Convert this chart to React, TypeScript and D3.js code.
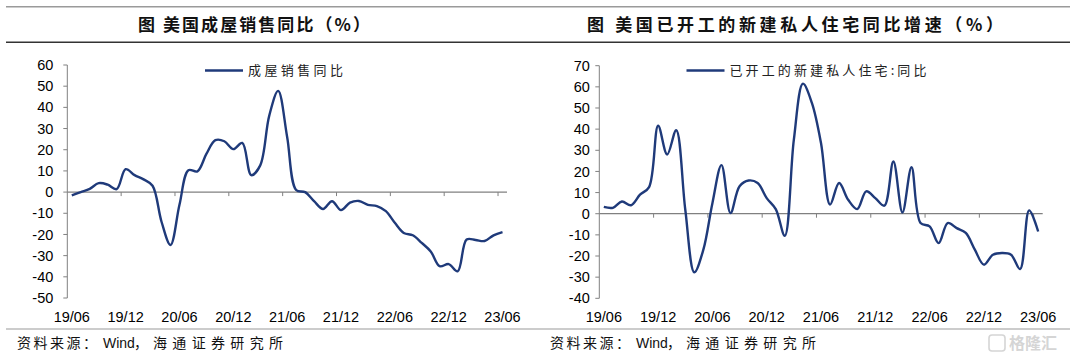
import React from "react";
import * as d3 from "d3";

const months: string[] = [];
for (let y = 2019; y <= 2023; y++) {
  for (let m = 1; m <= 12; m++) {
    if ((y === 2019 && m < 6) || (y === 2023 && m > 6)) continue;
    months.push(`${String(y).slice(2)}/${String(m).padStart(2, "0")}`);
  }
}
const tickLabels = ["19/06", "19/12", "20/06", "20/12", "21/06", "21/12", "22/06", "22/12", "23/06"];

// 美国成屋销售同比 (%)
const existingHomeSales = [
  -1.5, 0, 1.5, 4.2, 3.5, 1.4, 10.8, 8, 6, 3, -14, -25, -6, 10.3, 9.8, 18, 24.5, 24, 20.3, 23.2, 8, 12.6, 36, 47.8,
  26, 1, 0, -4.3, -8, -4.3, -8.5, -5, -4.2, -6, -6.6, -9, -14.5, -19.3, -20.4, -24, -28, -35, -34, -37.4, -22.4,
  -22.6, -23.1, -20.4, -18.9,
];

// 美国已开工的新建私人住宅同比增速 (%)
const housingStarts = [
  3.2, 2.8, 5.8, 4, 9, 12.6, 41.6, 28, 39.5, 2, -27.7, -17, 5, 23, 0.3, 13, 15.7, 14.5, 7.4, 2.2, -10.4, 35, 61.5,
  52.3, 33.4, 4.3, 14.5, 6.6, 2.2, 10.6, 7.4, 3.8, 24.7, 0.6, 22, -4.4, -6, -13.9, -4.4, -6.8, -9.1, -17, -24.1,
  -19.4, -18.6, -19.4, -26.2, 1.6, -8.4,
];

const leftTicks = [60, 50, 40, 30, 20, 10, 0, -10, -20, -30, -40, -50];
const rightTicks = [70, 60, 50, 40, 30, 20, 10, 0, -10, -20, -30, -40];

const LINE_COLOR = "#1f3a7a";
const AXIS_COLOR = "#808080";
const NUM_FONT = "'Liberation Sans', Arial, sans-serif";
const CJK_FONT = "'Noto Sans CJK SC', sans-serif";

type PanelProps = {
  data: number[];
  yTicks: number[];
  yDomain: [number, number];
  xRange: [number, number];
  yRange: [number, number];
  labelGap: number;
  legend: string;
  legendX: number;
  legendTextLen: number;
};

function Panel({ data, yTicks, yDomain, xRange, yRange, labelGap, legend, legendX, legendTextLen }: PanelProps) {
  const x = d3.scaleLinear().domain([0, months.length]).range(xRange);
  const y = d3.scaleLinear().domain(yDomain).range(yRange);
  const line = d3
    .line<number>()
    .x((_, i) => x(i + 0.5))
    .y((d) => y(d))
    .curve(d3.curveCatmullRom.alpha(0.5));
  const y0 = y(0);
  const tickIdx = months.map((m, i) => (tickLabels.includes(m) ? i : -1)).filter((i) => i >= 0);
  return (
    <g>
      <line x1={xRange[0]} x2={xRange[0]} y1={y(yDomain[0])} y2={y(yDomain[1])} stroke={AXIS_COLOR} strokeWidth={1} />
      {yTicks.map((t) => (
        <g key={t}>
          <line x1={xRange[0] - 4} x2={xRange[0]} y1={y(t)} y2={y(t)} stroke={AXIS_COLOR} strokeWidth={1} />
          <text
            x={xRange[0] - labelGap}
            y={y(t)}
            dy="0.35em"
            textAnchor="end"
            fontFamily={NUM_FONT}
            fontSize={14.5}
            fill="#000"
          >
            {t}
          </text>
        </g>
      ))}
      <line x1={xRange[0]} x2={xRange[1]} y1={y0} y2={y0} stroke={AXIS_COLOR} strokeWidth={1.2} />
      {tickIdx
        .filter((i) => i > 0)
        .map((i) => (
          <line key={i} x1={x(i)} x2={x(i)} y1={y0} y2={y0 + 4} stroke={AXIS_COLOR} strokeWidth={1} />
        ))}
      {tickIdx.map((i) => (
        <text
          key={"l" + i}
          x={x(i + 0.5)}
          y={322}
          textAnchor="middle"
          fontFamily={NUM_FONT}
          fontSize={14.5}
          fill="#000"
        >
          {months[i]}
        </text>
      ))}
      <path d={line(data) || ""} fill="none" stroke={LINE_COLOR} strokeWidth={2.4} strokeLinejoin="round" />
      <line x1={legendX} x2={legendX + 38} y1={70.5} y2={70.5} stroke={LINE_COLOR} strokeWidth={2.4} />
      <text
        x={legendX + 43}
        y={75}
        fontFamily={CJK_FONT}
        fontSize={13}
        fill="#222"
        textLength={legendTextLen}
        lengthAdjust="spacing"
      >
        {legend}
      </text>
    </g>
  );
}

function Source({ x0 }: { x0: number }) {
  return (
    <text y={348} fontFamily={CJK_FONT} fontSize={14} fill="#111">
      <tspan x={x0} textLength={80} lengthAdjust="spacing">
        资料来源：
      </tspan>
      <tspan x={x0 + 86} fontFamily={NUM_FONT} fontSize={14}>
        Wind
      </tspan>
      <tspan x={x0 + 117}>，</tspan>
      <tspan x={x0 + 136} textLength={130} lengthAdjust="spacing">
        海通证券研究所
      </tspan>
    </text>
  );
}

export default function App() {
  return (
    <div style={{ position: "absolute", left: 0, top: 0 }}>
      <svg width={1080} height={360} style={{ display: "block", background: "#fff" }}>
        <line x1={6} x2={1070} y1={6.8} y2={6.8} stroke="#9a9a9a" strokeWidth={1.4} />
        <line x1={6} x2={1070} y1={42.3} y2={42.3} stroke="#333" strokeWidth={1.4} />
        <line x1={6} x2={1070} y1={329} y2={329} stroke="#9a9a9a" strokeWidth={1.2} />
        <text
          x={138}
          y={31}
          fontFamily={CJK_FONT}
          fontWeight={700}
          fontSize={17}
          fill="#111"
          textLength={232}
          lengthAdjust="spacing"
        >
          图 美国成屋销售同比（%）
        </text>
        <text
          x={587}
          y={31}
          fontFamily={CJK_FONT}
          fontWeight={700}
          fontSize={17}
          fill="#111"
          textLength={416}
          lengthAdjust="spacing"
        >
          图 美国已开工的新建私人住宅同比增速（%）
        </text>
        <Panel
          data={existingHomeSales}
          yTicks={leftTicks}
          yDomain={[-50, 60]}
          xRange={[67.3, 507]}
          yRange={[298, 65]}
          labelGap={14}
          legend="成屋销售同比"
          legendX={205}
          legendTextLen={95}
        />
        <Panel
          data={housingStarts}
          yTicks={rightTicks}
          yDomain={[-40, 70]}
          xRange={[599.3, 1042.7]}
          yRange={[298.3, 65.7]}
          labelGap={9.5}
          legend="已开工的新建私人住宅:同比"
          legendX={686.5}
          legendTextLen={197}
        />
        <Source x0={17} />
        <Source x0={550} />
        <g opacity={0.35}>
          <rect x={989} y={335} width={16} height={16} rx={3} fill="none" stroke="#888" strokeWidth={1.6} />
          <text x={1009} y={349} fontFamily={CJK_FONT} fontWeight={700} fontSize={16} fill="#888">
            格隆汇
          </text>
        </g>
      </svg>
    </div>
  );
}
